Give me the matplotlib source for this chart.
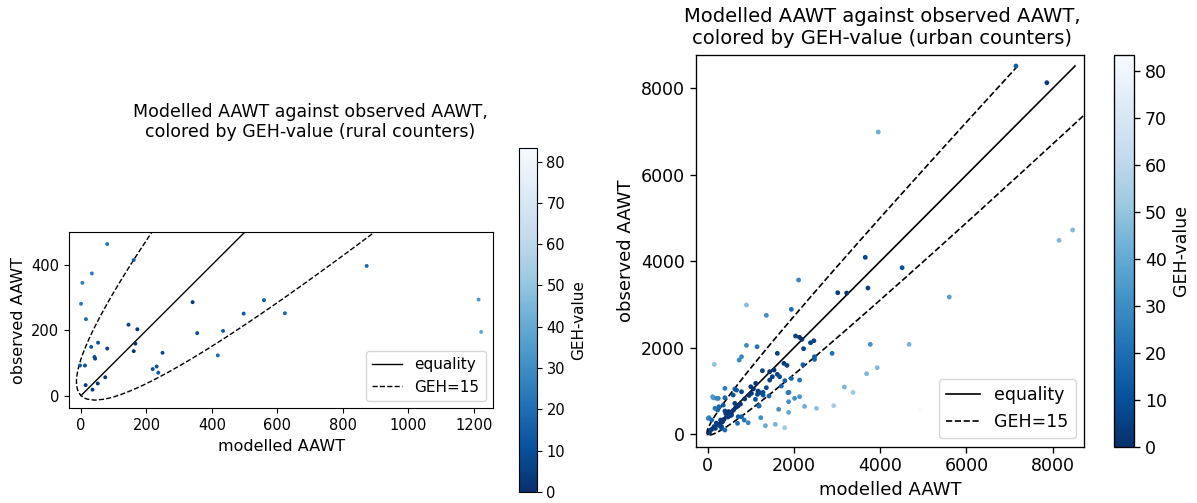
import numpy as np
import matplotlib
matplotlib.use('Agg')
import matplotlib.pyplot as plt
from matplotlib.colors import Normalize

# rural counters (modelled, observed)
rural_modelled = [80, 161, 33, 4, 0, 15, 31, 52, 41, 43, 80, -3, 12, 14, 35, 51, 74,
                  145, 172, 166, 161, 219, 231, 236, 249, 341, 355, 418, 434, 497,
                  559, 623, 873, 1215, 1223]
rural_observed = [464, 415, 374, 345, 281, 234, 149, 162, 118, 113, 144, 92, 92, 32, 18, 37, 56,
                  217, 203, 159, 136, 81, 89, 70, 131, 286, 191, 123, 198, 251,
                  292, 252, 397, 294, 195]

# urban counters (modelled, observed)
urban_modelled = [7147, 7863, 3954, 8462, 8147, 3654, 4508, 3016, 3224, 3716, 5601, 2885,
                  3770, 4670, 3685, 3931, 3169, 3370, 2923, 4909,
                  900, 2108, 1362, 1939, 2038, 2131, 2185, 2385, 2462, 2223,
                  900, 1146, 1615, 785, 731, 154, 1769, 1839, 2208, 2477, 2477,
                  1269, 1438, 1539, 1615, 1669, 1500, 1438, 2131, 1939, 1790,
                  1708, 1115, 785, 1208, 1285, 1423, 1862, 1885, 2131,
                  1169, 1362, 2015, 1877, 1193, 1646, 1877, 2246, 2523, 1231, 1339, 1569, 1785,
                  1015, 1108, 1154, 1285, 1185, 1000, 1060,
                  400, 630, 131, 246, 400, 592, 362, 231, 400, 477, 554, 785, 847, 30, 92, 323,
                  115, 208, 669, 15, 169, 261, 630, 708, 939, 692, 400, 323,
                  150, 250, 300, 380, 450, 500, 550, 600, 650, 420, 350, 200, 100, 520, 700,
                  60, 40, 180, 280, 330, 470, 760, 860, 960]
urban_observed = [8516, 8130, 6990, 4724, 4485, 4092, 3853, 3274, 3267, 3383, 3175, 1873,
                  2081, 2081, 1402, 1541, 1094, 970, 662, 555,
                  2990, 3568, 2751, 2890, 2273, 2243, 2196, 2118, 2164, 1980,
                  2057, 2026, 1873, 1794, 1718, 1618, 1641, 1595, 1610, 1795, 1733,
                  1471, 1448, 1487, 1387, 1332, 1332, 1255, 1255, 1294, 1240,
                  1117, 1179, 985, 963, 909, 886, 963, 970, 870,
                  1001, 1078, 832, 754, 662, 578, 508, 647, 601, 385, 200, 231, 153,
                  947, 809, 925, 970, 654, 1100, 1050,
                  1063, 1047, 846, 832, 846, 909, 677, 562, 539, 523, 446, 407, 331, 384, 331, 139,
                  870, 832, 1024, 370, 601, 638, 716, 407, 268, 254, 100, 176,
                  180, 230, 330, 350, 420, 520, 500, 560, 620, 480, 300, 260, 120, 430, 650,
                  90, 30, 140, 200, 280, 400, 700, 820, 900]

geh_level = 15
cbar_ticks = [0, 10, 20, 30, 40, 50, 60, 70, 80]


def geh(m, c):
    m = np.asarray(m, float)
    c = np.asarray(c, float)
    return np.sqrt(2 * (m - c) ** 2 / (m + c))


def geh_curve(level, cmax):
    # points where GEH(M, C) == level, with d = M - C: 2d^2 - k d - 2kC = 0
    k = level ** 2
    c = np.linspace(-k / 16.0, cmax, 3000)
    root = np.sqrt(np.clip(k ** 2 + 16 * k * c, 0, None))
    up = c + (k - root) / 4
    low = c + (k + root) / 4
    m = np.concatenate([up[::-1], low])
    cc = np.concatenate([c[::-1], c])
    return m, cc


rural_geh = geh(rural_modelled, rural_observed)
urban_geh = geh(urban_modelled, urban_observed)
norm = Normalize(vmin=0, vmax=max(rural_geh.max(), urban_geh.max()))
cmax = max(urban_observed)

fig = plt.figure(figsize=(11.97, 5.03), dpi=100)
ax1 = fig.add_axes([0.0576, 0.1883, 0.3545, 0.3499])
cax1 = fig.add_axes([0.4336, 0.0219, 0.0148, 0.684])
ax2 = fig.add_axes([0.5812, 0.1119, 0.3246, 0.7787])
cax2 = fig.add_axes([0.9307, 0.1119, 0.0167, 0.7787])

# (axes, cbar axes, x, y, geh, tick size, label size, legend size, line width, marker size, limits, ticks)
panels = [
    (ax1, cax1, rural_modelled, rural_observed, rural_geh, 10.5, 11.5, 11, 1.0, 8,
     (-37, 1260), (-39, 500), [0, 200, 400, 600, 800, 1000, 1200], [0, 200, 400]),
    (ax2, cax2, urban_modelled, urban_observed, urban_geh, 12.5, 13, 12.5, 1.2, 12,
     (-277, 8730), (-286, 8770), [0, 2000, 4000, 6000, 8000], [0, 2000, 4000, 6000, 8000]),
]

for ax, cax, mod, obs, g, tfs, lfs, gfs, lw, ms, xl, yl, xt, yt in panels:
    sc = ax.scatter(mod, obs, c=g, cmap='Blues_r', norm=norm, s=ms,
                    linewidths=0, zorder=3)
    ax.plot([0, cmax], [0, cmax], color='black', lw=lw, label='equality')
    gm, gc = geh_curve(geh_level, cmax)
    ax.plot(gm, gc, color='black', lw=lw, ls='--', label='GEH=15')
    ax.set_xlim(*xl)
    ax.set_ylim(*yl)
    ax.set_xticks(xt)
    ax.set_yticks(yt)
    ax.tick_params(labelsize=tfs, width=lw * 0.8, length=3.5 * lw)
    for sp in ax.spines.values():
        sp.set_linewidth(0.8 * lw)
    ax.set_xlabel('modelled AAWT', fontsize=lfs)
    ax.set_ylabel('observed AAWT', fontsize=lfs)
    ax.legend(loc='lower right', fontsize=gfs)
    cb = fig.colorbar(sc, cax=cax, ticks=cbar_ticks)
    cb.set_label('GEH-value', fontsize=lfs - 0.5)
    cb.ax.tick_params(labelsize=tfs, width=lw * 0.8, length=3.5 * lw)
    cb.outline.set_linewidth(0.8 * lw)

fig.text(310 / 1197, 1 - 122 / 503,
         'Modelled AAWT against observed AAWT,\ncolored by GEH-value (rural counters)',
         ha='center', va='center', fontsize=12.5)
fig.text(882 / 1197, 1 - 28 / 503,
         'Modelled AAWT against observed AAWT,\ncolored by GEH-value (urban counters)',
         ha='center', va='center', fontsize=14)

fig.savefig('out.png', dpi=100)
